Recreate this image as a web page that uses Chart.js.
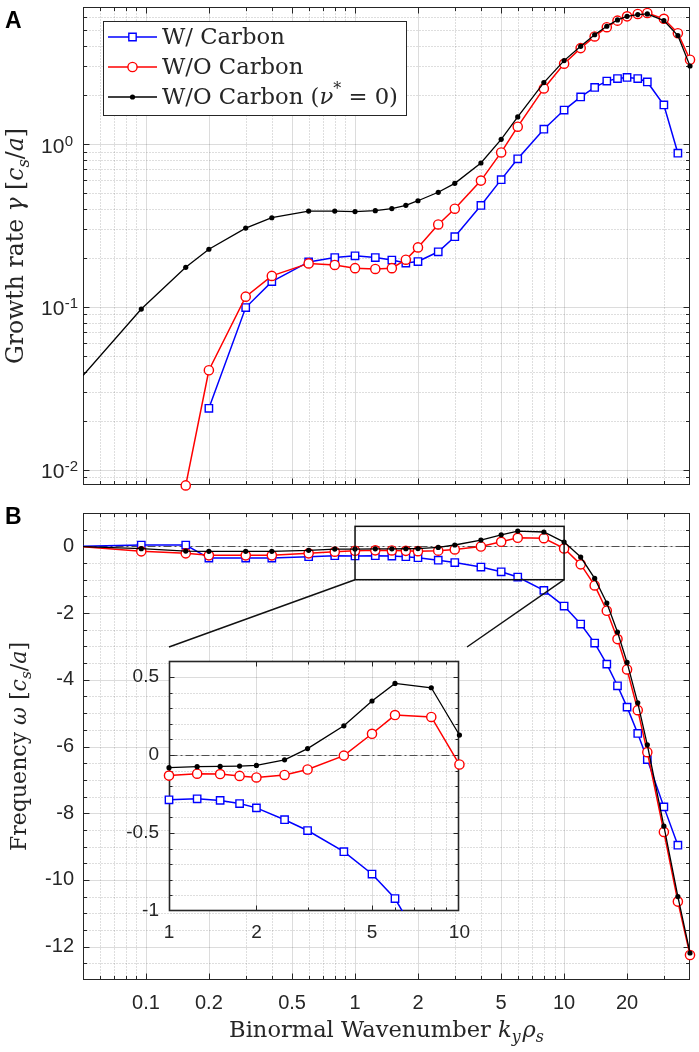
<!DOCTYPE html>
<html><head><meta charset="utf-8">
<script src="https://cdn.jsdelivr.net/npm/chart.js@4.4.1/dist/chart.umd.min.js"></script>
<style>
html,body{margin:0;padding:0;background:#fff;}
#wrap{position:relative;width:699px;height:1052px;overflow:hidden;background:#fff;}
canvas{position:absolute;}
</style></head><body>
<div id="wrap">
<canvas id="cTop" width="699" height="492" style="left:0;top:0"></canvas>
<canvas id="cBot" width="699" height="560" style="left:0;top:492px"></canvas>
<canvas id="cIns" width="360" height="310" style="left:120px;top:640px"></canvas>
</div>
<script>
// ---------------- data ----------------
const ky = [0.05, 0.095, 0.155, 0.2, 0.3, 0.4, 0.6, 0.8, 1, 1.25, 1.5, 1.75, 2, 2.5, 3, 4, 5, 6, 8, 10, 12, 14, 16, 18, 20, 22.5, 25, 30, 35, 40];
const gammaWithC = [null, null, null, 0.0238, 0.099, 0.143, 0.189, 0.201, 0.206, 0.201, 0.194, 0.186, 0.19, 0.218, 0.27, 0.42, 0.605, 0.813, 1.235, 1.62, 1.95, 2.23, 2.44, 2.53, 2.57, 2.53, 2.41, 1.74, 0.88, null];
const gammaWoC = [null, null, 0.008, 0.0408, 0.1156, 0.155, 0.185, 0.181, 0.173, 0.171, 0.173, 0.195, 0.232, 0.321, 0.401, 0.597, 0.889, 1.28, 2.2, 3.12, 3.89, 4.59, 5.23, 5.74, 6.1, 6.31, 6.4, 5.89, 4.8, 3.3];
const gammaNu0 = [0.0379, 0.097, 0.175, 0.226, 0.305, 0.353, 0.388, 0.388, 0.385, 0.39, 0.402, 0.421, 0.449, 0.506, 0.574, 0.766, 1.07, 1.47, 2.39, 3.26, 3.99, 4.7, 5.3, 5.8, 6.1, 6.25, 6.31, 5.74, 4.65, 3.02];
const omegaWithC = [0.0, 0.04, 0.04, -0.35, -0.35, -0.35, -0.31, -0.28, -0.287, -0.281, -0.291, -0.311, -0.339, -0.415, -0.484, -0.62, -0.763, -0.92, -1.32, -1.79, -2.33, -2.9, -3.53, -4.18, -4.82, -5.61, -6.39, -7.81, -8.96, null];
const omegaWoC = [-0.01, -0.15, -0.21, -0.27, -0.27, -0.27, -0.21, -0.16, -0.132, -0.12, -0.122, -0.134, -0.144, -0.128, -0.093, -0.004, 0.136, 0.256, 0.244, -0.061, -0.54, -1.17, -1.93, -2.78, -3.69, -4.91, -6.17, -8.56, -10.65, -12.25];
const omegaNu0 = [-0.01, -0.07, -0.14, -0.15, -0.15, -0.15, -0.12, -0.08, -0.081, -0.075, -0.073, -0.071, -0.067, -0.031, 0.041, 0.187, 0.346, 0.459, 0.431, 0.128, -0.32, -0.96, -1.7, -2.57, -3.48, -4.69, -5.95, -8.39, -10.5, -12.19];
const seriesNames = ['W/ Carbon', 'W/O Carbon', 'W/O Carbon (ν* = 0)'];

const xTickVals = [0.1, 0.2, 0.5, 1, 2, 5, 10, 20];
const xTickLabels = ['0.1', '0.2', '0.5', '1', '2', '5', '10', '20'];
const gammaTickVals = [0.01, 0.1, 1];
const gammaTickExps = ['-2', '-1', '0'];
const omegaTickVals = [-12, -10, -8, -6, -4, -2, 0];
const omegaTickLabels = ['-12', '-10', '-8', '-6', '-4', '-2', '0'];
const insetXTickVals = [1, 2, 5, 10];
const insetXTickLabels = ['1', '2', '5', '10'];
const insetYTickVals = [-1, -0.5, 0, 0.5];
const insetYTickLabels = ['-1', '-0.5', '0', '0.5'];

// axis limits
const X_MIN = 0.05, X_MAX = 40;
const G_MIN = 0.008, G_MAX = 7;
const W_MIN = -13, W_MAX = 1;
const ZOOM_X = [1, 10], ZOOM_Y = [-1, 0.6];

// ---------------- styling ----------------
const TEXT = '#262626', AX = '#262626';
const MAJ = 'rgba(38,38,38,0.16)', MIN = 'rgba(38,38,38,0.30)';
const SERIF = '"DejaVu Serif"';
const SANS = '"Liberation Sans", Arial, sans-serif';
// inset placement on the page (pixels)
const INS = {left: 169, top: 647, right: 467, bottom: 911, canvasLeft: 120, canvasTop: 640, w: 360, h: 310};
const BOT_TOP = 492;

function hideAtMin(r) { return c => (c.raw && c.raw.x <= X_MIN ? 0 : r); }
const styles = [
  {borderColor: '#0000ff', borderWidth: 1.5, pointStyle: 'rect', pr: 5.2, pointBorderColor: '#0000ff', pointBackgroundColor: '#ffffff', pointBorderWidth: 1.4},
  {borderColor: '#ff0000', borderWidth: 1.5, pointStyle: 'circle', pr: 4.6, pointBorderColor: '#ff0000', pointBackgroundColor: '#ffffff', pointBorderWidth: 1.4},
  {borderColor: '#000000', borderWidth: 1.3, pointStyle: 'circle', pr: 2.6, pointBorderColor: '#000000', pointBackgroundColor: '#000000', pointBorderWidth: 0}
];
function mk(i, xs, ys, clip, filt) {
  const pts = [];
  xs.forEach((x, k) => { if (ys[k] !== null && (!filt || filt(x))) pts.push({x: x, y: ys[k]}); });
  const s = styles[i];
  return {
    label: seriesNames[i], data: pts, clip: clip, tension: 0, fill: false,
    borderColor: s.borderColor, borderWidth: s.borderWidth, pointStyle: s.pointStyle,
    pointRadius: hideAtMin(s.pr), pointHoverRadius: hideAtMin(s.pr),
    pointBorderColor: s.pointBorderColor, pointBackgroundColor: s.pointBackgroundColor,
    pointBorderWidth: s.pointBorderWidth, order: 2 - i
  };
}

function logMinors(lo, hi, majors) {
  const out = [];
  for (let e = Math.floor(Math.log10(lo)) - 1; e <= Math.ceil(Math.log10(hi)); e++) {
    for (let d = 1; d <= 9; d++) {
      const v = +(d * Math.pow(10, e)).toPrecision(8);
      if (v > lo * 1.001 && v < hi * 0.999 && !majors.some(m => Math.abs(m - v) < 1e-9)) out.push(v);
    }
  }
  return out;
}
function linMinors(lo, hi, step, majors) {
  const out = [];
  const n0 = Math.ceil(lo / step - 1e-9), n1 = Math.floor(hi / step + 1e-9);
  for (let n = n0; n <= n1; n++) {
    const v = +(n * step).toFixed(6);
    if (v > lo + 1e-9 && v < hi - 1e-9 && !majors.some(m => Math.abs(m - v) < 1e-9)) out.push(v);
  }
  return out;
}

// axes decoration: grid (major solid / minor dotted), inward ticks on all sides, box
function decor(o) {
  return {
    id: 'decor',
    beforeDatasetsDraw(chart) {
      const ctx = chart.ctx, a = chart.chartArea, x = chart.scales.x, y = chart.scales.y;
      const L = Math.round(a.left) + 0.5, R = Math.round(a.right) - 0.5, T = Math.round(a.top) + 0.5, B = Math.round(a.bottom) - 0.5;
      ctx.save();
      if (o.fill) { ctx.fillStyle = '#fff'; ctx.fillRect(a.left, a.top, a.right - a.left, a.bottom - a.top); }
      const px = v => Math.round(x.getPixelForValue(v)) + 0.5;
      const py = v => Math.round(y.getPixelForValue(v)) + 0.5;
      const inX = p => p > L + 1 && p < R - 1;
      const inY = p => p > T + 1 && p < B - 1;
      const vline = v => { const p = px(v); if (!inX(p)) return; ctx.beginPath(); ctx.moveTo(p, T); ctx.lineTo(p, B); ctx.stroke(); };
      const hline = v => { const p = py(v); if (!inY(p)) return; ctx.beginPath(); ctx.moveTo(L, p); ctx.lineTo(R, p); ctx.stroke(); };
      ctx.lineWidth = 1;
      ctx.strokeStyle = MIN; ctx.setLineDash([1, 2]);
      o.xMinor.forEach(vline); o.yMinor.forEach(hline);
      ctx.setLineDash([]); ctx.strokeStyle = MAJ;
      o.xMajor.forEach(vline); o.yMajor.forEach(hline);
      if (o.zero) {
        ctx.strokeStyle = '#505050'; ctx.setLineDash([8, 3, 2, 3]);
        const p = py(0); ctx.beginPath(); ctx.moveTo(L, p); ctx.lineTo(R, p); ctx.stroke();
        ctx.setLineDash([]);
      }
      ctx.strokeStyle = AX; ctx.lineWidth = 1;
      const tx = (v, len) => { const p = px(v); if (!inX(p)) return; ctx.beginPath(); ctx.moveTo(p, B); ctx.lineTo(p, B - len); ctx.moveTo(p, T); ctx.lineTo(p, T + len); ctx.stroke(); };
      const ty = (v, len) => { const p = py(v); if (!inY(p)) return; ctx.beginPath(); ctx.moveTo(L, p); ctx.lineTo(L + len, p); ctx.moveTo(R, p); ctx.lineTo(R - len, p); ctx.stroke(); };
      o.xMinor.forEach(v => tx(v, o.minLen)); o.yMinor.forEach(v => ty(v, o.minLen));
      o.xMajor.forEach(v => tx(v, o.majLen)); o.yMajor.forEach(v => ty(v, o.majLen));
      ctx.lineWidth = o.boxW || 1;
      ctx.strokeRect(L, T, R - L, B - T);
      ctx.restore();
    }
  };
}

// rich text helpers
function rich(ctx, segs, size, fam) {
  const items = segs.map(s => {
    const sz = (s.sub || s.sup) ? size * 0.7 : size;
    const font = (s.it ? 'italic ' : '') + sz.toFixed(2) + 'px ' + fam;
    ctx.font = font;
    return {t: s.t, font: font, w: ctx.measureText(s.t).width + (s.pad || 0), dy: s.sub ? size * 0.24 : (s.sup ? -size * 0.42 : 0)};
  });
  return {items: items, width: items.reduce((acc, it) => acc + it.w, 0)};
}
function drawRich(ctx, r, x, y) {
  let cx = x;
  r.items.forEach(it => { ctx.font = it.font; ctx.fillText(it.t, cx, y + it.dy); cx += it.w; });
}
function fitRich(ctx, segs, fam, target) {
  const r0 = rich(ctx, segs, 22, fam);
  return rich(ctx, segs, 22 * target / r0.width, fam);
}
const xLabelSegs = [{t: 'Binormal Wavenumber '}, {t: 'k', it: 1}, {t: 'y', it: 1, sub: 1, pad: 2}, {t: 'ρ', it: 1}, {t: 's', it: 1, sub: 1}];
const gLabelSegs = [{t: 'Growth rate '}, {t: 'γ', it: 1}, {t: ' ['}, {t: 'c', it: 1}, {t: 's', it: 1, sub: 1}, {t: '/'}, {t: 'a', it: 1}, {t: ']'}];
const wLabelSegs = [{t: 'Frequency '}, {t: 'ω', it: 1}, {t: ' ['}, {t: 'c', it: 1}, {t: 's', it: 1, sub: 1}, {t: '/'}, {t: 'a', it: 1}, {t: ']'}];
const legendSegs = [[{t: 'W/ Carbon'}], [{t: 'W/O Carbon'}], [{t: 'W/O Carbon ('}, {t: 'ν', it: 1}, {t: '*', sup: 1}, {t: ' = 0)'}]];

function drawMarker(ctx, i, x, y) {
  const s = styles[i];
  ctx.save();
  ctx.lineWidth = s.pointBorderWidth || 1; ctx.strokeStyle = s.pointBorderColor; ctx.fillStyle = s.pointBackgroundColor;
  ctx.beginPath();
  if (s.pointStyle === 'rect') { const h = s.pr * Math.SQRT1_2; ctx.rect(x - h, y - h, 2 * h, 2 * h); }
  else ctx.arc(x, y, s.pr, 0, Math.PI * 2);
  ctx.fill(); if (s.pointBorderWidth) ctx.stroke();
  ctx.restore();
}

const baseOpts = {
  responsive: false, animation: false, events: [],
  plugins: {legend: {display: false}, tooltip: {enabled: false}}
};

// ---------------- top panel: growth rate ----------------
const xMinorMain = logMinors(X_MIN, X_MAX, xTickVals);
const topText = {
  id: 'topText',
  afterDraw(chart) {
    const ctx = chart.ctx, y = chart.scales.y, a = chart.chartArea;
    ctx.save(); ctx.fillStyle = TEXT; ctx.textBaseline = 'alphabetic'; ctx.textAlign = 'left';
    gammaTickVals.forEach((v, i) => {
      const p = y.getPixelForValue(v);
      ctx.font = '21px ' + SANS;
      ctx.fillText('10', 41, p + 8.5);
      const w = ctx.measureText('10').width;
      ctx.font = '15px ' + SANS;
      ctx.fillText(gammaTickExps[i], 41 + w + 0.5, p + 1.5);
    });
    // y label
    const r = fitRich(ctx, gLabelSegs, SERIF, 236);
    ctx.save(); ctx.translate(23, (a.top + a.bottom) / 2); ctx.rotate(-Math.PI / 2);
    drawRich(ctx, r, -r.width / 2, 0); ctx.restore();
    // panel letter
    ctx.font = 'bold 23px ' + SANS; ctx.fillStyle = '#000';
    ctx.fillText('A', 5, 28);
    // legend
    const lx0 = 103.5, ly0 = 21.5, lx1 = 406.5, ly1 = 115.5;
    ctx.fillStyle = '#fff'; ctx.fillRect(lx0, ly0, lx1 - lx0, ly1 - ly0);
    ctx.strokeStyle = AX; ctx.lineWidth = 1; ctx.strokeRect(lx0, ly0, lx1 - lx0, ly1 - ly0);
    const lsize = 22 * 236 / rich(ctx, legendSegs[2], 22, SERIF).width;
    [0, 1, 2].forEach(i => {
      const cy = 37 + 30 * i;
      ctx.strokeStyle = styles[i].borderColor; ctx.lineWidth = styles[i].borderWidth;
      ctx.beginPath(); ctx.moveTo(108, cy); ctx.lineTo(157, cy); ctx.stroke();
      drawMarker(ctx, i, 132.5, cy);
      ctx.fillStyle = TEXT;
      drawRich(ctx, rich(ctx, legendSegs[i], lsize, SERIF), 162, cy + 7);
    });
    ctx.restore();
  }
};
new Chart(document.getElementById('cTop'), {
  type: 'line',
  data: {datasets: [mk(0, ky, gammaWithC, {left: 0, right: 8, top: 8, bottom: 8}),
                    mk(1, ky, gammaWoC, {left: 0, right: 8, top: 8, bottom: 8}),
                    mk(2, ky, gammaNu0, {left: 0, right: 8, top: 8, bottom: 8})]},
  options: Object.assign({}, baseOpts, {
    layout: {padding: {left: 83, right: 9, top: 6, bottom: 5}},
    scales: {
      x: {type: 'logarithmic', min: X_MIN, max: X_MAX, display: false},
      y: {type: 'logarithmic', min: G_MIN, max: G_MAX, display: false}
    }
  }),
  plugins: [decor({xMajor: xTickVals, xMinor: xMinorMain, yMajor: gammaTickVals, yMinor: logMinors(G_MIN, G_MAX, gammaTickVals), majLen: 6, minLen: 3.5}), topText]
});

// ---------------- bottom panel: frequency ----------------
const botText = {
  id: 'botText',
  afterDatasetsDraw(chart) {
    const ctx = chart.ctx, x = chart.scales.x, y = chart.scales.y;
    ctx.save(); ctx.strokeStyle = '#111'; ctx.lineWidth = 1.5;
    const bx0 = x.getPixelForValue(ZOOM_X[0]), bx1 = x.getPixelForValue(ZOOM_X[1]);
    const by0 = y.getPixelForValue(ZOOM_Y[1]), by1 = y.getPixelForValue(ZOOM_Y[0]);
    ctx.strokeRect(bx0, by0, bx1 - bx0, by1 - by0);
    ctx.beginPath();
    ctx.moveTo(bx0, by1); ctx.lineTo(INS.left, INS.top - BOT_TOP);
    ctx.moveTo(bx1, by1); ctx.lineTo(INS.right, INS.top - BOT_TOP);
    ctx.stroke();
    ctx.restore();
  },
  afterDraw(chart) {
    const ctx = chart.ctx, a = chart.chartArea;
    ctx.save(); ctx.fillStyle = TEXT; ctx.textBaseline = 'alphabetic'; ctx.textAlign = 'left';
    const rx = fitRich(ctx, xLabelSegs, SERIF, 315);
    drawRich(ctx, rx, (a.left + a.right) / 2 - rx.width / 2, 1037 - BOT_TOP);
    const rw = fitRich(ctx, wLabelSegs, SERIF, 209);
    ctx.save(); ctx.translate(26, (a.top + a.bottom) / 2); ctx.rotate(-Math.PI / 2);
    drawRich(ctx, rw, -rw.width / 2, 0); ctx.restore();
    ctx.font = 'bold 23px ' + SANS; ctx.fillStyle = '#000';
    ctx.fillText('B', 5, 524 - BOT_TOP);
    ctx.restore();
  }
};
new Chart(document.getElementById('cBot'), {
  type: 'line',
  data: {datasets: [mk(0, ky, omegaWithC, {left: 0, right: 8, top: 8, bottom: 8}),
                    mk(1, ky, omegaWoC, {left: 0, right: 8, top: 8, bottom: 8}),
                    mk(2, ky, omegaNu0, {left: 0, right: 8, top: 8, bottom: 8})]},
  options: Object.assign({}, baseOpts, {
    layout: {padding: {left: 0, right: 9, top: 7, bottom: 0}},
    scales: {
      x: {type: 'logarithmic', min: X_MIN, max: X_MAX,
          grid: {display: false, drawTicks: false}, border: {display: false},
          afterBuildTicks: s => { s.ticks = xTickVals.map(v => ({value: v})); },
          afterFit: s => { s.height = 72; },
          ticks: {autoSkip: false, maxRotation: 0, minRotation: 0, padding: 11, color: TEXT,
                  font: {family: SANS, size: 20},
                  callback: v => { const i = xTickVals.findIndex(t => Math.abs(t - v) < 1e-9); return i >= 0 ? xTickLabels[i] : ''; }}},
      y: {type: 'linear', min: W_MIN, max: W_MAX,
          grid: {display: false, drawTicks: false}, border: {display: false},
          afterBuildTicks: s => { s.ticks = omegaTickVals.map(v => ({value: v})); },
          afterFit: s => { s.width = 83; },
          ticks: {autoSkip: false, padding: 9, color: TEXT, font: {family: SANS, size: 20},
                  callback: v => { const i = omegaTickVals.indexOf(v); return i >= 0 ? omegaTickLabels[i] : ''; }}}
    }
  }),
  plugins: [decor({xMajor: xTickVals, xMinor: xMinorMain, yMajor: omegaTickVals, yMinor: linMinors(W_MIN, W_MAX, 0.5, omegaTickVals), majLen: 6, minLen: 3.5, zero: true}), botText]
});

// ---------------- inset ----------------
const inZoom = x => x >= ZOOM_X[0] - 1e-9 && x <= ZOOM_X[1] + 1e-9;
const insClip = {left: 6, right: 6, top: 6, bottom: 0};
new Chart(document.getElementById('cIns'), {
  type: 'line',
  data: {datasets: [mk(0, ky, omegaWithC, insClip, inZoom), mk(1, ky, omegaWoC, insClip, inZoom), mk(2, ky, omegaNu0, insClip, inZoom)]},
  options: Object.assign({}, baseOpts, {
    layout: {padding: {left: 0, right: INS.canvasLeft + INS.w - INS.right, top: INS.top - INS.canvasTop, bottom: 0}},
    scales: {
      x: {type: 'logarithmic', min: ZOOM_X[0], max: ZOOM_X[1],
          grid: {display: false, drawTicks: false}, border: {display: false},
          afterBuildTicks: s => { s.ticks = insetXTickVals.map(v => ({value: v})); },
          afterFit: s => { s.height = INS.canvasTop + INS.h - INS.bottom; },
          ticks: {autoSkip: false, maxRotation: 0, minRotation: 0, padding: 10, color: TEXT, font: {family: SANS, size: 19},
                  callback: v => { const i = insetXTickVals.findIndex(t => Math.abs(t - v) < 1e-9); return i >= 0 ? insetXTickLabels[i] : ''; }}},
      y: {type: 'linear', min: ZOOM_Y[0], max: ZOOM_Y[1],
          grid: {display: false, drawTicks: false}, border: {display: false},
          afterBuildTicks: s => { s.ticks = insetYTickVals.map(v => ({value: v})); },
          afterFit: s => { s.width = INS.left - INS.canvasLeft; },
          ticks: {autoSkip: false, padding: 10, color: TEXT, font: {family: SANS, size: 19},
                  callback: v => { const i = insetYTickVals.findIndex(t => Math.abs(t - v) < 1e-9); return i >= 0 ? insetYTickLabels[i] : ''; }}}
    }
  }),
  plugins: [decor({fill: true, xMajor: insetXTickVals, xMinor: logMinors(ZOOM_X[0], ZOOM_X[1], insetXTickVals),
                   yMajor: insetYTickVals, yMinor: linMinors(ZOOM_Y[0], ZOOM_Y[1], 0.1, insetYTickVals),
                   majLen: 5, minLen: 3, zero: true, boxW: 1.6})]
});
</script>
</body></html>
